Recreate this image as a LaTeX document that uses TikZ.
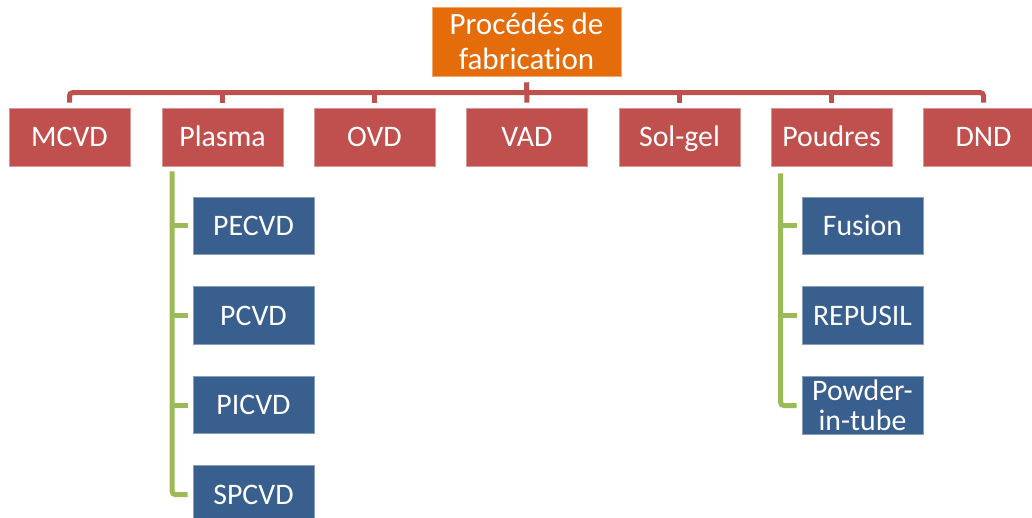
\documentclass[tikz,border=0pt]{standalone}
\usepackage{fontspec}
\setmainfont{Carlito}[Ligatures={NoCommon}]
\definecolor{topor}{HTML}{E46C0A}
\definecolor{redb}{HTML}{C0504D}
\definecolor{blueb}{HTML}{385F8E}
\definecolor{greenl}{HTML}{9BBB59}
\tikzset{
  topbox/.style={fill=topor, draw=topor!60!white, line width=0.6pt, text=white, minimum width=189pt, minimum height=69pt, inner sep=0pt, align=center, font=\fontsize{31}{35}\selectfont},
  redbox/.style={fill=redb, draw=redb!60!white, line width=0.6pt, text=white, minimum width=121pt, minimum height=58pt, inner sep=0pt, font=\fontsize{29.8}{35}\selectfont, text height=19.2pt, text depth=0pt},
  bluebox/.style={fill=blueb, draw=blueb!60!white, line width=0.6pt, text=white, minimum width=121pt, minimum height=57.5pt, inner sep=0pt, font=\fontsize{29.8}{30}\selectfont, text height=19.2pt, text depth=0pt},
  bluetwo/.style={fill=blueb, draw=blueb!60!white, line width=0.6pt, text=white, minimum width=121pt, minimum height=57.5pt, inner sep=0pt, align=center, font=\fontsize{29.8}{30}\selectfont},
  redline/.style={draw=redb, line width=5pt, rounded corners=3pt},
  greenline/.style={draw=greenl, line width=5pt, rounded corners=3pt},
}
\begin{document}
\begin{tikzpicture}[x=1pt,y=1pt]
\useasboundingbox (0,0) rectangle (1032,-518);
\fill[white] (0,0) rectangle (1032,-518);
\node[topbox] (top) at (526.5,-41.5) {Procédés de\\fabrication};
\node[redbox] (m1) at (69.5,-137) {MCVD};
\node[redbox] (m2) at (222.5,-137) {Plasma};
\node[redbox] (m3) at (374.5,-137) {OVD};
\node[redbox] (m4) at (527,-137) {VAD};
\node[redbox] (m5) at (679.5,-137) {Sol-gel};
\node[redbox] (m6) at (831.5,-137) {Poudres};
\node[redbox] (m7) at (983.5,-137) {DND};
\node[bluebox] (p1) at (253.5,-226) {PECVD};
\node[bluebox] (p2) at (253.5,-315.5) {PCVD};
\node[bluebox] (p3) at (253.5,-405) {PICVD};
\node[bluebox] (p4) at (253.5,-494.5) {SPCVD};
\node[bluebox] (q1) at (862.5,-226) {Fusion};
\node[bluebox] (q2) at (862.5,-315.5) {REPUSIL};
\node[bluetwo] (q3) at (862.5,-405.5) {Powder-\\in-tube};
% red connectors
\draw[redline] ([yshift=-6pt]top.south) -- ([yshift=5pt]m4.north);
\draw[redline] ([yshift=5pt]m1.north) |- ([yshift=15pt]m7.north) -- ([yshift=5pt]m7.north);
\foreach \n in {m2,m3,m5,m6}{
  \draw[redline] ([yshift=15pt]\n.north) -- ([yshift=5pt]\n.north);
}
% green connectors
\coordinate (pl) at ([xshift=10.5pt,yshift=-5pt]m2.south west);
\coordinate (ql) at ([xshift=10pt,yshift=-7pt]m6.south west);
\draw[greenline] (pl) |- ([xshift=-5pt]p4.west);
\foreach \n in {p1,p2,p3}{
  \draw[greenline] (pl |- \n.west) -- ([xshift=-5pt]\n.west);
}
\draw[greenline] (ql) |- ([xshift=-5pt]q3.west);
\foreach \n in {q1,q2}{
  \draw[greenline] (ql |- \n.west) -- ([xshift=-5pt]\n.west);
}
\end{tikzpicture}
\end{document}
